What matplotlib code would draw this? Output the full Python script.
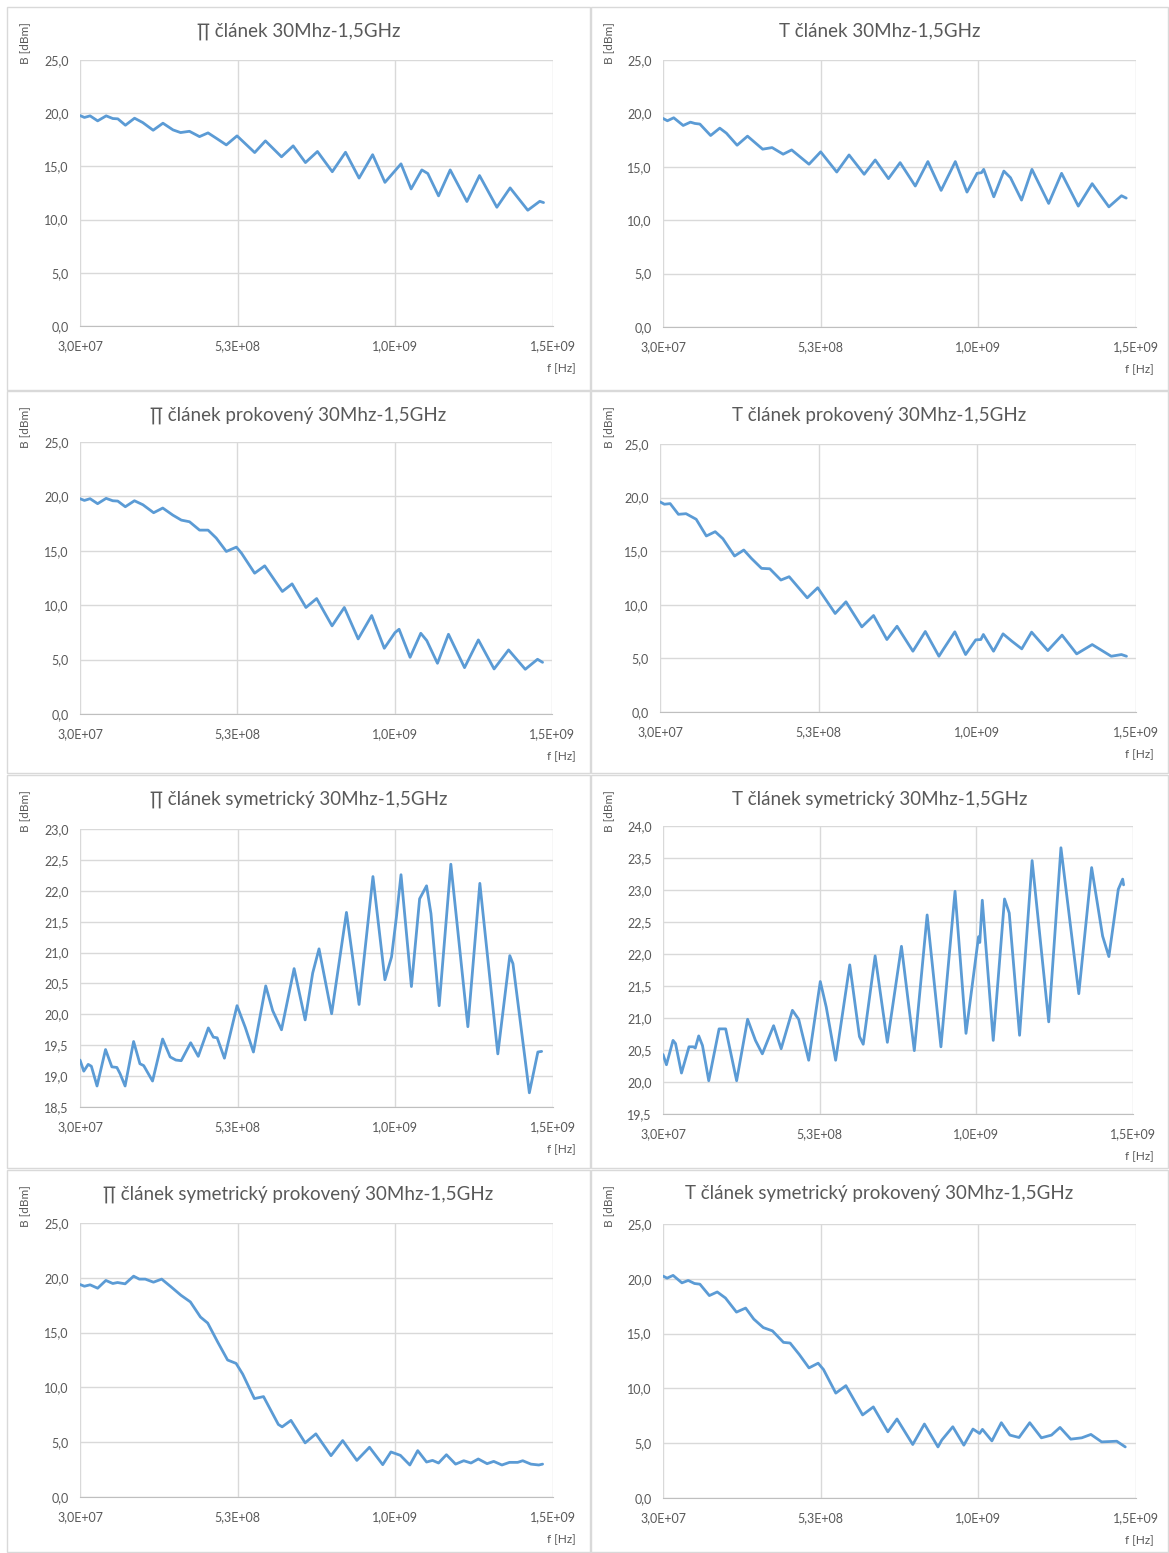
"""
Pi / T attenuator measurements 30 MHz - 1.5 GHz (8 Excel-style panels)
"""

import numpy as np
import matplotlib
matplotlib.use('Agg')
import matplotlib.pyplot as plt
from matplotlib.patches import Rectangle
from matplotlib.ticker import FuncFormatter


# Frequencies in MHz, levels in dBm
pi_f = [30, 44, 62, 86, 113, 134, 150, 174, 203, 229, 262, 293, 325, 349, 377, 409, 436, 462,
        494, 528, 584, 618, 669, 706, 745, 783, 830, 872, 915, 958, 997, 1034, 1048, 1080, 1114,
        1133, 1167, 1204, 1257, 1297, 1352, 1394, 1450, 1488, 1500]
pi_b = [19.78, 19.6, 19.75, 19.28, 19.75, 19.5, 19.47, 18.87, 19.53, 19.12, 18.4, 19.06, 18.43,
        18.18, 18.3, 17.8, 18.15, 17.65, 17.02, 17.87, 16.3, 17.4, 15.9, 16.93, 15.36, 16.4, 14.5,
        16.33, 13.9, 16.1, 13.5, 14.76, 15.24, 12.88, 14.67, 14.33, 12.23, 14.67, 11.7, 14.14,
        11.16, 12.98, 10.88, 11.72, 11.6]

t_f = [30, 44, 64, 94, 117, 131, 147, 181, 210, 231, 265, 298, 346, 376, 411, 438, 493, 530,
       581, 620, 668, 703, 745, 782, 830, 870, 912, 957, 994, 1026, 1040, 1047, 1079, 1111, 1132,
       1167, 1200, 1253, 1294, 1347, 1391, 1444, 1484, 1499]
t_b = [19.53, 19.31, 19.59, 18.87, 19.18, 19.06, 19.0, 17.93, 18.62, 18.15, 17.02, 17.87, 16.65,
       16.8, 16.18, 16.58, 15.24, 16.4, 14.51, 16.11, 14.3, 15.64, 13.89, 15.39, 13.2, 15.49,
       12.79, 15.49, 12.63, 14.39, 14.45, 14.76, 12.19, 14.6, 13.98, 11.88, 14.76, 11.57, 14.39,
       11.32, 13.42, 11.25, 12.29, 12.07]

pi_prok_f = [30, 44, 62, 86, 113, 134, 150, 174, 203, 230, 264, 293, 325, 352, 378, 410, 437, 463,
             495, 527, 543, 585, 617, 673, 704, 748, 782, 831, 870, 914, 957, 997, 1031, 1044,
             1079, 1113, 1132, 1166, 1201, 1252, 1296, 1346, 1392, 1445, 1484, 1500]
pi_prok_b = [19.79, 19.63, 19.79, 19.33, 19.82, 19.6, 19.57, 19.05, 19.6, 19.23, 18.5, 18.93,
             18.28, 17.82, 17.67, 16.9, 16.9, 16.17, 14.94, 15.34, 14.79, 12.94, 13.62, 11.26,
             11.96, 9.79, 10.61, 8.1, 9.79, 6.9, 9.05, 6.04, 7.48, 7.79, 5.21, 7.42, 6.75, 4.66,
             7.33, 4.26, 6.81, 4.14, 5.89, 4.11, 5.03, 4.75]

t_prok_f = [30, 44, 62, 88, 112, 144, 176, 204, 228, 265, 294, 318, 350, 376, 411, 437, 494, 527,
            582, 616, 666, 703, 745, 777, 827, 866, 909, 921, 959, 993, 1025, 1041, 1049, 1081,
            1111, 1139, 1170, 1201, 1252, 1297, 1343, 1392, 1452, 1484, 1500]
t_prok_b = [19.6, 19.38, 19.44, 18.44, 18.5, 17.98, 16.42, 16.82, 16.17, 14.55, 15.11, 14.33,
            13.4, 13.36, 12.31, 12.62, 10.65, 11.59, 9.19, 10.28, 7.94, 9.0, 6.76, 8.0, 5.67,
            7.51, 5.2, 5.76, 7.48, 5.36, 6.73, 6.76, 7.23, 5.67, 7.29, 6.6, 5.89, 7.45, 5.73,
            7.17, 5.42, 6.29, 5.2, 5.36, 5.2]

pi_sym_f = [30, 42, 56, 66, 84, 111, 131, 147, 157, 173, 200, 220, 232, 260, 292, 316, 334, 351,
            381, 405, 437, 453, 465, 488, 528, 554, 580, 619, 641, 669, 709, 744, 768, 788, 828,
            875, 915, 959, 997, 1018, 1034, 1048, 1081, 1107, 1129, 1143, 1169, 1206, 1260, 1298,
            1355, 1393, 1403, 1455, 1482, 1494]
pi_sym_b = [19.26, 19.08, 19.19, 19.16, 18.84, 19.43, 19.15, 19.14, 19.04, 18.84, 19.56, 19.2,
            19.17, 18.92, 19.6, 19.31, 19.26, 19.25, 19.54, 19.32, 19.78, 19.63, 19.62, 19.29,
            20.14, 19.79, 19.39, 20.46, 20.06, 19.75, 20.74, 19.91, 20.67, 21.06, 20.01, 21.65,
            20.16, 22.23, 20.56, 20.93, 21.6, 22.26, 20.45, 21.87, 22.08, 21.63, 20.14, 22.43,
            19.8, 22.12, 19.36, 20.95, 20.82, 18.73, 19.39, 19.4]

t_sym_f = [30, 41, 62, 70, 89, 113, 127, 133, 144, 156, 176, 209, 230, 265, 300, 325, 347, 383,
           407, 443, 463, 495, 532, 551, 581, 626, 657, 669, 707, 746, 791, 832, 873, 917, 962,
           997, 1037, 1041, 1049, 1084, 1120, 1135, 1168, 1208, 1261, 1300, 1357, 1398, 1433,
           1453, 1483, 1497, 1500]
t_sym_b = [20.43, 20.27, 20.65, 20.6, 20.14, 20.55, 20.55, 20.53, 20.72, 20.57, 20.02, 20.83,
           20.83, 20.02, 20.98, 20.65, 20.44, 20.88, 20.52, 21.12, 20.98, 20.34, 21.57, 21.17,
           20.34, 21.83, 20.71, 20.59, 21.97, 20.62, 22.12, 20.49, 22.61, 20.55, 22.98, 20.76,
           22.27, 22.18, 22.84, 20.65, 22.86, 22.64, 20.73, 23.46, 20.94, 23.66, 21.38, 23.35,
           22.28, 21.96, 23.01, 23.17, 23.08]

pi_sym_prok_f = [30, 44, 62, 86, 112, 134, 149, 173, 200, 218, 237, 263, 289, 319, 350, 380, 412,
                 435, 467, 498, 525, 546, 583, 612, 659, 671, 699, 744, 778, 826, 863, 908, 948,
                 990, 1016, 1046, 1076, 1101, 1129, 1148, 1167, 1192, 1221, 1247, 1270, 1293,
                 1321, 1342, 1368, 1392, 1418, 1434, 1460, 1485, 1497]
pi_sym_prok_b = [19.39, 19.23, 19.36, 19.05, 19.76, 19.48, 19.57, 19.45, 20.15, 19.88, 19.88,
                 19.6, 19.88, 19.17, 18.41, 17.8, 16.42, 15.87, 14.12, 12.5, 12.19, 11.21, 8.98,
                 9.16, 6.62, 6.4, 6.99, 4.94, 5.76, 3.77, 5.15, 3.34, 4.54, 2.95, 4.11, 3.8, 2.92,
                 4.23, 3.19, 3.34, 3.1, 3.86, 3.0, 3.31, 3.1, 3.47, 3.04, 3.25, 2.92, 3.16, 3.16,
                 3.31, 3.0, 2.92, 3.0]

t_sym_prok_f = [30, 43, 62, 90, 110, 130, 147, 177, 202, 228, 263, 292, 318, 348, 377, 412, 433,
                462, 493, 522, 539, 578, 610, 663, 697, 743, 772, 822, 859, 902, 914, 949, 984,
                1013, 1034, 1043, 1073, 1103, 1130, 1159, 1193, 1230, 1262, 1289, 1323, 1358,
                1387, 1421, 1469, 1496]
t_sym_prok_b = [20.25, 20.06, 20.31, 19.63, 19.85, 19.57, 19.51, 18.47, 18.8, 18.25, 16.96,
                17.33, 16.32, 15.55, 15.25, 14.2, 14.14, 13.1, 11.87, 12.3, 11.72, 9.57, 10.25,
                7.58, 8.31, 6.04, 7.21, 4.88, 6.75, 4.66, 5.28, 6.5, 4.82, 6.29, 5.89, 6.26,
                5.21, 6.87, 5.74, 5.52, 6.87, 5.49, 5.74, 6.44, 5.37, 5.49, 5.8, 5.12, 5.18, 4.66]

titles = ['\u220f článek 30Mhz-1,5GHz', 'T článek 30Mhz-1,5GHz',
          '\u220f článek prokovený 30Mhz-1,5GHz', 'T článek prokovený 30Mhz-1,5GHz',
          '\u220f článek symetrický 30Mhz-1,5GHz', 'T článek symetrický 30Mhz-1,5GHz',
          '\u220f článek symetrický prokovený 30Mhz-1,5GHz',
          'T článek symetrický prokovený 30Mhz-1,5GHz']

x_ticks = [3.0e7, 5.3e8, 1.03e9, 1.53e9]
x_labels = ['3,0E+07', '5,3E+08', '1,0E+09', '1,5E+09']

series = [(pi_f, pi_b), (t_f, t_b), (pi_prok_f, pi_prok_b), (t_prok_f, t_prok_b),
          (pi_sym_f, pi_sym_b), (t_sym_f, t_sym_b), (pi_sym_prok_f, pi_sym_prok_b),
          (t_sym_prok_f, t_sym_prok_b)]

yranges = [(0, 25, 5), (0, 25, 5), (0, 25, 5), (0, 25, 5),
           (18.5, 23, 0.5), (19.5, 24, 0.5), (0, 25, 5), (0, 25, 5)]

# layout in pixels: panel frame (x0, y0, x1, y1), plot area (x0, y0, x1, y1)
frames = [(7, 7, 590, 390), (591, 7, 1168, 390),
          (7, 391, 590, 773), (591, 391, 1168, 773),
          (7, 775, 590, 1168), (591, 775, 1168, 1168),
          (7, 1170, 590, 1552), (591, 1170, 1168, 1552)]
plots = [(80, 60, 553, 326), (663, 60, 1136, 327),
         (80, 442, 552, 714), (660, 444, 1136, 712),
         (80, 829, 553, 1107), (663, 826, 1133, 1114),
         (80, 1223, 553, 1497), (663, 1224, 1136, 1498)]

W, H = 1169, 1553
plt.rcParams['font.family'] = ['Lato', 'DejaVu Sans']
txt = '#595959'
grid = '#d9d9d9'
blue = '#5b9bd5'

fig = plt.figure(figsize=(W / 100, H / 100), dpi=100)

for i in range(8):
    fx0, fy0, fx1, fy1 = frames[i]
    fig.patches.append(Rectangle((fx0 / W, 1 - fy1 / H), (fx1 - fx0) / W, (fy1 - fy0) / H,
                                 transform=fig.transFigure, fill=False,
                                 edgecolor=grid, linewidth=1))
    x0, y0, x1, y1 = plots[i]
    ax = fig.add_axes([x0 / W, 1 - y1 / H, (x1 - x0) / W, (y1 - y0) / H])
    f, b = series[i]
    ax.plot(np.array(f) * 1e6, b, color=blue, linewidth=2, solid_joinstyle='round',
            solid_capstyle='round')

    lo, hi, step = yranges[i]
    ax.set_ylim(lo, hi)
    ax.set_yticks(np.arange(lo, hi + step / 2, step))
    ax.yaxis.set_major_formatter(FuncFormatter(lambda v, p: ('%.1f' % v).replace('.', ',')))
    ax.set_xlim(x_ticks[0], x_ticks[-1])
    ax.set_xticks(x_ticks)
    ax.set_xticklabels(x_labels)

    ax.grid(True, color=grid, linewidth=1)
    ax.set_axisbelow(True)
    for s in ['top', 'right', 'left']:
        ax.spines[s].set_visible(False)
    ax.spines['bottom'].set_color('#bfbfbf')
    ax.tick_params(length=0, labelsize=9, colors=txt)
    ax.tick_params(axis='x', pad=10)
    ax.tick_params(axis='y', pad=8)

    cx = (fx0 + fx1) / 2
    fig.text(cx / W, 1 - (fy0 + 24) / H, titles[i], ha='center', va='center',
             fontsize=13.5, color=txt)
    fig.text((fx0 + 18) / W, 1 - (fy0 + 15) / H, 'B [dBm]', rotation=90, ha='center',
             va='top', fontsize=8.5, color=txt)
    fig.text((fx1 - 14) / W, 1 - (y1 + 43) / H, 'f [Hz]', ha='right', va='center',
             fontsize=8.5, color=txt)

plt.savefig('out.png', dpi=100)
